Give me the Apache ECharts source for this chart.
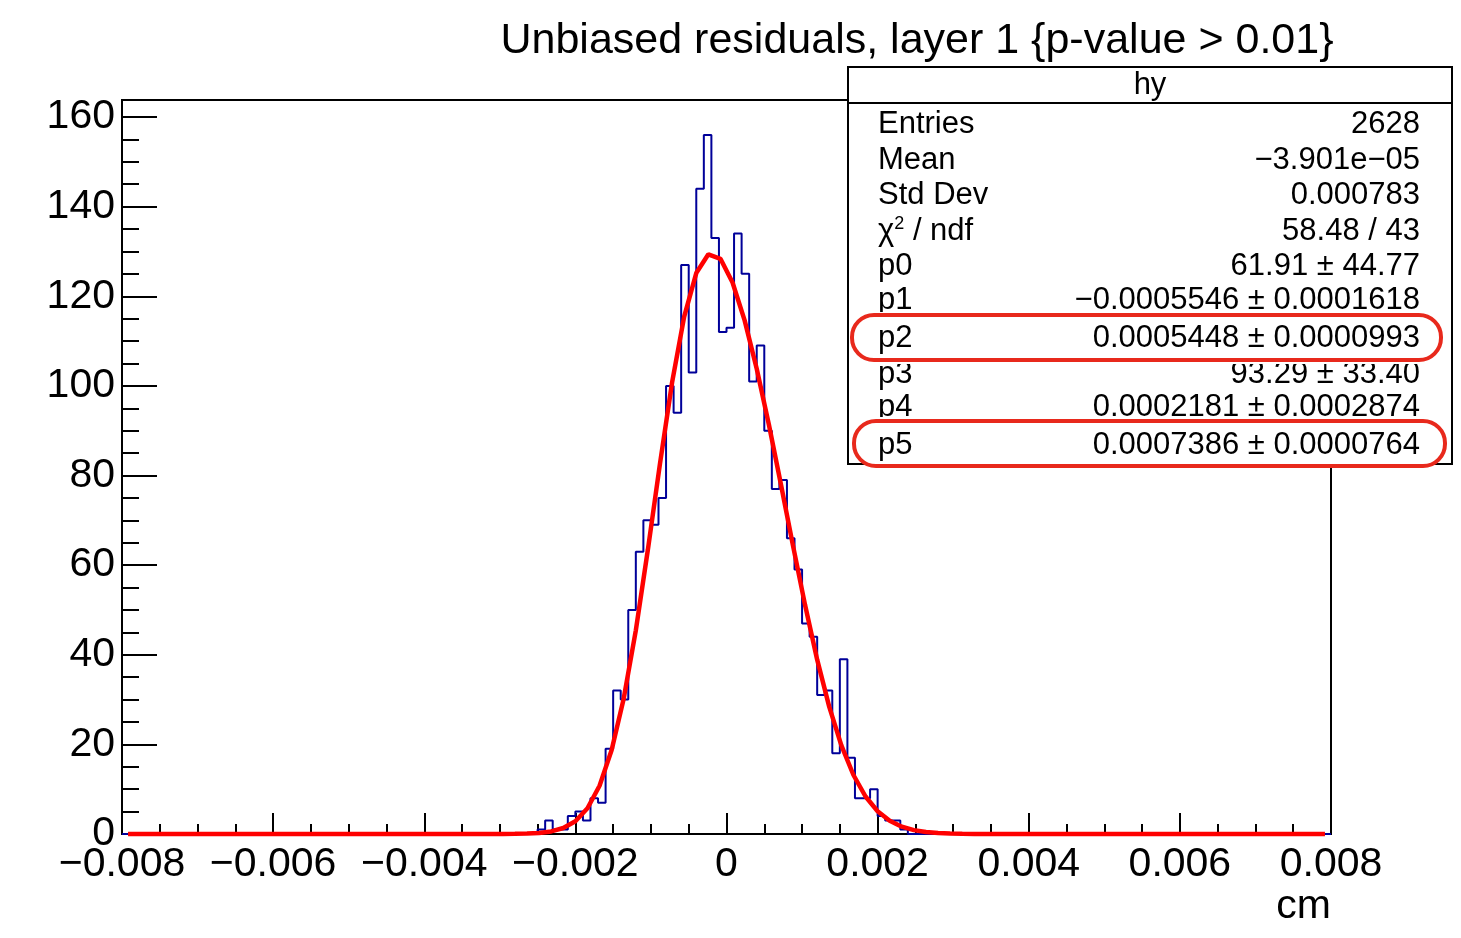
<!DOCTYPE html>
<html><head><meta charset="utf-8">
<script src="https://cdn.jsdelivr.net/npm/echarts@6/dist/echarts.min.js"></script>
<style>html,body{margin:0;padding:0;background:#fff}#c{width:1461px;height:938px}</style>
</head><body><div id="c"></div>
<script>
// Histogram: 160 bins of 0.0001 cm from -0.008 to 0.008; filled bins start at bin 55 (-0.0025)
const histStart = -0.008;
const histBinWidth = 0.0001;
const histBinCount = 160;
const firstFilledBin = 55;
const binCounts = [1, 3, 1, 1, 4, 5, 3, 8, 7, 19, 32, 30, 50,
  63, 70, 69, 75, 100, 94, 127, 103, 144, 156, 133, 112,
  113, 134, 125, 101, 109, 90, 77, 79, 66, 59, 47, 44, 31,
  32, 18, 39, 17, 8, 8, 10, 4, 3, 3, 1];

// Fit curve sampled at 100 points starting at -0.00792, step 0.00016
const fitStart = -0.00792;
const fitStep = 0.00016;
const fitValues = [
  0, 0, 0, 0, 0, 0, 0, 0, 0, 0,
  0, 0, 0, 0, 0, 0, 0, 0, 0, 0,
  0, 0, 0, 0, 0, 0, 0, 0, 0, 0,
  0, 0.01, 0.04, 0.09, 0.24, 0.58, 1.33, 2.86, 5.75, 10.76,
  18.73, 30.26, 45.45, 63.50, 82.69, 100.77, 115.47, 125.18, 129.36, 128.36,
  123.08, 114.62, 103.84, 91.44, 78.06, 64.36, 51.08, 38.91, 28.37, 19.77,
  13.17, 8.37, 5.08, 2.94, 1.63, 0.86, 0.43, 0.21, 0.10, 0.04,
  0.02, 0.01, 0, 0, 0, 0, 0, 0, 0, 0,
  0, 0, 0, 0, 0, 0, 0, 0, 0, 0,
  0, 0, 0, 0, 0, 0, 0, 0, 0, 0];

const xTickLabels = ['\u22120.008', '\u22120.006', '\u22120.004', '\u22120.002', '0', '0.002', '0.004', '0.006', '0.008'];
const titleText = 'Unbiased residuals, layer 1 {p-value > 0.01}';
const statTitle = 'hy';
const statLabels = ['Entries', 'Mean', 'Std Dev', '\u03c7{s|2} / ndf', 'p0', 'p1', 'p2', 'p3', 'p4', 'p5'];
const statValues = ['2628', '\u22123.901e\u221205', '0.000783', '58.48 / 43', '61.91 \u00b1 44.77',
  '\u22120.0005546 \u00b1 0.0001618', '0.0005448 \u00b1 0.0000993', '93.29 \u00b1 33.40',
  '0.0002181 \u00b1 0.0002874', '0.0007386 \u00b1 0.0000764'];
const highlightedRows = [6, 9];

const histData = [];
for (let i = 0; i < histBinCount; i++) {
  const x = +(histStart + i * histBinWidth).toFixed(6);
  const j = i - firstFilledBin;
  histData.push([x, (j >= 0 && j < binCounts.length) ? binCounts[j] : 0]);
}
histData.push([+(histStart + histBinCount * histBinWidth).toFixed(6), 0]);

const fitData = fitValues.map((v, k) => [+(fitStart + k * fitStep).toFixed(6), v]);

const FONT = 'Liberation Sans, Arial, Helvetica, sans-serif';
const chart = echarts.init(document.getElementById('c'), null, {renderer: 'canvas'});

const rowY = [124, 160, 195, 231, 266, 300, 338, 374, 407, 445];
const statChildren = [];
statChildren.push({type: 'rect', shape: {x: 848, y: 67, width: 604, height: 397},
  style: {fill: '#fff', stroke: '#000', lineWidth: 2}, z: 10});
statChildren.push({type: 'line', shape: {x1: 848, y1: 103, x2: 1452, y2: 103},
  style: {stroke: '#000', lineWidth: 2}, z: 11});
statChildren.push({type: 'text', x: 1150, y: 85, z: 12,
  style: {text: statTitle, fontSize: 31, fontFamily: FONT, fill: '#000', align: 'center', verticalAlign: 'middle'}});
statLabels.forEach((lab, i) => {
  const hl = highlightedRows.indexOf(i) >= 0;
  statChildren.push({type: 'text', x: 878, y: rowY[i], z: hl ? 15 : 12,
    style: {text: lab, fontSize: 31, fontFamily: FONT, fill: '#000', align: 'left', verticalAlign: 'middle',
      rich: {s: {fontSize: 18, fontFamily: FONT, fill: '#000', verticalAlign: 'top', padding: [0, 0, 14, 0]}}}});
  statChildren.push({type: 'text', x: 1420, y: rowY[i], z: hl ? 15 : 12,
    style: {text: statValues[i], fontSize: 31, fontFamily: FONT, fill: '#000', align: 'right', verticalAlign: 'middle'}});
});
// white bands left by the highlight marks
statChildren.push({type: 'rect', shape: {x: 850, y: 312, width: 600, height: 52},
  style: {fill: '#fff'}, z: 13});
statChildren.push({type: 'rect', shape: {x: 850, y: 417, width: 600, height: 46},
  style: {fill: '#fff'}, z: 13});
statChildren.push({type: 'rect', shape: {x: 852, y: 315, width: 589, height: 45, r: 22},
  style: {fill: '#fff', stroke: '#e8291c', lineWidth: 4}, z: 14});
statChildren.push({type: 'rect', shape: {x: 854, y: 421, width: 591, height: 45, r: 22},
  style: {fill: '#fff', stroke: '#e8291c', lineWidth: 4}, z: 14});

chart.setOption({
  animation: false,
  backgroundColor: '#fff',
  title: {text: titleText, left: 912, top: 15, textAlign: 'center',
    textStyle: {fontSize: 43, fontWeight: 'normal', fontFamily: FONT, color: '#000'}},
  grid: {left: 122, right: 130, top: 100, bottom: 104, show: true, borderColor: '#000', borderWidth: 2, backgroundColor: 'transparent'},
  xAxis: {
    type: 'value', min: -0.008, max: 0.008, interval: 0.002,
    name: 'cm', nameLocation: 'end', nameGap: 0,
    nameTextStyle: {fontSize: 41, fontFamily: FONT, color: '#000', align: 'right', verticalAlign: 'top', padding: [52, 0, 0, 0]},
    axisLine: {show: true, onZero: false, lineStyle: {color: '#000', width: 2}},
    axisTick: {show: true, inside: true, length: 21, lineStyle: {color: '#000', width: 2}},
    minorTick: {show: true, splitNumber: 4, length: 10, lineStyle: {color: '#000', width: 2}},
    splitLine: {show: false},
    axisLabel: {fontSize: 41, fontFamily: FONT, color: '#000', margin: 10,
      formatter: v => xTickLabels[Math.round((v + 0.008) / 0.002)]}
  },
  yAxis: {
    type: 'value', min: 0, max: 163.8, interval: 20,
    axisLine: {show: true, onZero: false, lineStyle: {color: '#000', width: 2}},
    axisTick: {show: true, inside: true, length: 35, lineStyle: {color: '#000', width: 2}},
    minorTick: {show: true, splitNumber: 4, length: 17, lineStyle: {color: '#000', width: 2}},
    splitLine: {show: false},
    axisLabel: {fontSize: 41, fontFamily: FONT, color: '#000', margin: 7,
      formatter: v => (v % 20 === 0 ? String(v) : '')}
  },
  series: [
    {type: 'line', name: 'hy', data: histData, step: 'end', symbol: 'none', clip: false,
      lineStyle: {color: '#000099', width: 2}, z: 3},
    {type: 'line', name: 'fit', data: fitData, symbol: 'none', clip: false, smooth: false,
      lineStyle: {color: '#ff0000', width: 4.5}, z: 4}
  ],
  graphic: [{type: 'group', children: statChildren}]
});
</script></body></html>
